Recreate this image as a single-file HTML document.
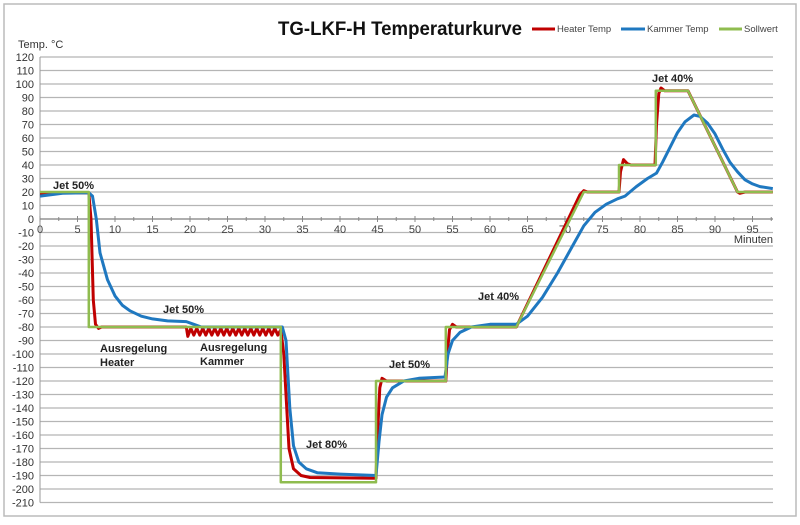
<!DOCTYPE html>
<html><head><meta charset="utf-8"><style>
body{margin:0;background:#fff;font-family:"Liberation Sans",sans-serif}
svg text{font-family:"Liberation Sans",sans-serif}
</style></head><body>
<svg id="chart" width="800" height="520" xmlns="http://www.w3.org/2000/svg">
<rect x="4" y="4" width="792" height="512" fill="#fff" stroke="#bbb" stroke-width="1.5"/>
<g id="grid"></g><g id="axes"></g><g id="series"></g>
<text x="278" y="35" font-size="19" font-weight="bold" textLength="244" lengthAdjust="spacingAndGlyphs" fill="#111">TG-LKF-H Temperaturkurve</text>
<g font-size="9.5" fill="#444">
<line x1="532" y1="29" x2="555" y2="29" stroke="#c00000" stroke-width="3"/><text x="557" y="32">Heater Temp</text>
<line x1="621" y1="29" x2="645" y2="29" stroke="#1f78c0" stroke-width="3"/><text x="647" y="32">Kammer Temp</text>
<line x1="719" y1="29" x2="742" y2="29" stroke="#8fbc4f" stroke-width="3"/><text x="744" y="32">Sollwert</text>
</g>
<text x="18" y="48" font-size="11" fill="#333">Temp. °C</text>
<text x="773" y="243" font-size="11" fill="#333" text-anchor="end">Minuten</text>
<g font-size="11" font-weight="bold" fill="#222">
<text x="53" y="189">Jet 50%</text>
<text x="163" y="313">Jet 50%</text>
<text x="100" y="352">Ausregelung</text>
<text x="100" y="366">Heater</text>
<text x="200" y="351">Ausregelung</text>
<text x="200" y="365">Kammer</text>
<text x="306" y="448">Jet 80%</text>
<text x="389" y="368">Jet 50%</text>
<text x="478" y="300">Jet 40%</text>
<text x="652" y="82">Jet 40%</text>
</g>
</svg>
<script>
const yTicks=[120,110,100,90,80,70,60,50,40,30,20,10,0,-10,-20,-30,-40,-50,-60,-70,-80,-90,-100,-110,-120,-130,-140,-150,-160,-170,-180,-190,-200,-210];
const xTicks=[0,5,10,15,20,25,30,35,40,45,50,55,60,65,70,75,80,85,90,95];
const sollwert=[[0,20],[6.5,20],[6.5,-80],[32.1,-80],[32.1,-195],[44.8,-195],[44.8,-120],[54.1,-120],[54.1,-80],[63.5,-80],[72.5,20],[77.2,20],[77.2,40],[82.1,40],[82.1,95],[86.4,95],[93,20],[97.7,20]];
const heater=[[0,19],[6.5,19.5],[6.8,0],[7.1,-60],[7.4,-78],[7.8,-81],[8.2,-80],[19.5,-80],[19.7,-87],[20.1,-81],[20.5,-86],[20.9,-81],[21.3,-86],[21.7,-81],[22.1,-86],[22.5,-81],[22.9,-86],[23.3,-81],[23.7,-86],[24.1,-81],[24.5,-86],[24.9,-81],[25.3,-86],[25.7,-81],[26.1,-86],[26.5,-81],[26.9,-86],[27.3,-81],[27.7,-86],[28.1,-81],[28.5,-86],[28.9,-81],[29.3,-86],[29.7,-81],[30.1,-86],[30.5,-81],[30.9,-86],[31.3,-81],[31.7,-86],[32.1,-82],[32.5,-100],[32.8,-130],[33.2,-170],[33.8,-185],[34.8,-190],[36,-191.5],[44.8,-192],[45,-160],[45.3,-125],[45.6,-118],[46.2,-120],[54.1,-120],[54.3,-100],[54.6,-82],[55,-78],[55.5,-80],[63.5,-80],[72,18],[72.5,21],[73,20],[77.2,20],[77.4,35],[77.8,44],[78.3,41],[78.8,40],[82,40],[82.2,70],[82.5,93],[82.8,97],[83.3,95],[86.4,95],[93,20],[93.3,19],[94,20],[97.7,20]];
const kammer=[[0,17],[3,19],[6.5,19.5],[7,17],[7.5,0],[8,-25],[9,-45],[10,-57],[11,-64],[12,-68],[13.5,-72],[15,-74],[17,-75.5],[19.5,-76],[20.5,-78],[21.5,-80],[32.3,-80],[32.8,-90],[33.3,-140],[33.8,-168],[34.5,-180],[35.5,-185],[37,-188],[40,-189],[44.8,-190],[45.2,-165],[45.6,-145],[46.2,-132],[47,-125],[48.5,-120],[50.5,-118],[54,-117],[54.4,-100],[55,-90],[56,-84],[57.5,-80],[60,-78],[63.5,-78],[65,-72],[67,-58],[69,-40],[71,-20],[72.5,-5],[74,5],[75.5,11],[77,15],[78,17],[79.5,24],[81,30],[82.2,34],[83,42],[84,53],[85,64],[86,72],[87.2,77],[88,76],[89,71],[90,63],[91,52],[92,42],[93,35],[94,29],[95,26],[96,24],[97.7,22.5]];
const NS="http://www.w3.org/2000/svg";
const X0=40,XS=7.5,Y0=219,YS=1.35,XR=773;
function sx(t){return X0+t*XS;}
function sy(v){return Y0-v*YS;}
function mk(tag,attrs,parent){const e=document.createElementNS(NS,tag);for(const k in attrs)e.setAttribute(k,attrs[k]);parent.appendChild(e);return e;}
const grid=document.getElementById('grid'),axes=document.getElementById('axes'),series=document.getElementById('series');
yTicks.forEach(v=>{
  const l=mk('line',{x1:X0,x2:XR,y1:sy(v),y2:sy(v),stroke:'#b5b5b5','stroke-width':1.2},grid);
  
  
  const t=mk('text',{x:34,y:sy(v)+4,'font-size':11,'text-anchor':'end',fill:'#333'},axes);
  t.textContent=v;
  
  
});
const ya=mk('line',{x1:X0,x2:X0,y1:sy(120),y2:sy(-210),stroke:'#999','stroke-width':1},axes);


const xa=mk('line',{x1:X0,x2:XR,y1:sy(0),y2:sy(0),stroke:'#888','stroke-width':1.2},axes);


xTicks.forEach(v=>{
  mk('line',{x1:sx(v),x2:sx(v),y1:sy(0)-3,y2:sy(0)+3,stroke:'#888'},axes);
  mk('line',{x1:sx(v+2.5),x2:sx(v+2.5),y1:sy(0)-2,y2:sy(0)+2,stroke:'#888'},axes);
  const t=mk('text',{x:sx(v),y:sy(0)+14,'font-size':11,'text-anchor':'middle',fill:'#444'},axes);
  t.textContent=v;
  
  
});
function path(data,color,w,name){
  const d=data.map((p,i)=>(i?'L':'M')+sx(p[0]).toFixed(1)+','+sy(p[1]).toFixed(1)).join('');
  const e=mk('path',{d:d,fill:'none',stroke:color,'stroke-width':w,'stroke-linejoin':'round'},series);
  
  
}
path(heater,'#c00000',3,'heater-temp-line');
path(kammer,'#1f78c0',3,'kammer-temp-line');
path(sollwert,'#8fbc4f',2.5,'sollwert-line');
</script>
</body></html>
